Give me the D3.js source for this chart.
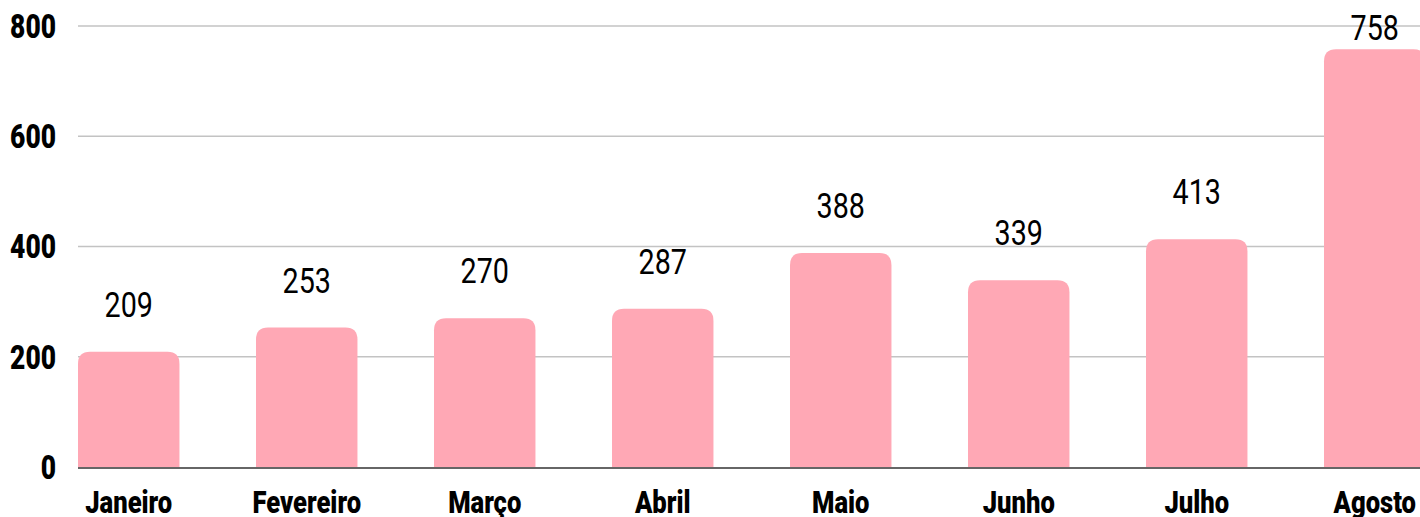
<!DOCTYPE html>
<html>
<head>
<meta charset="utf-8">
<script src="https://cdn.jsdelivr.net/npm/d3@7"></script>
<style>
  body { margin: 0; background: #fff; overflow: hidden; }
  svg { display: block; }
</style>
</head>
<body>
<script>
const months = ["Janeiro", "Fevereiro", "Março", "Abril", "Maio", "Junho", "Julho", "Agosto"];
const values = [209, 253, 270, 287, 388, 339, 413, 758];
const yTicks = [0, 200, 400, 600, 800];

const width = 1420;
const height = 517;
const font = "Roboto, 'Liberation Sans', sans-serif";
const squeeze = 0.8; // the original uses a condensed face

const svg = d3.select("body").append("svg")
    .attr("width", width)
    .attr("height", height);

const x = d3.scaleBand()
    .domain(months)
    .range([78, 78 + 178 * (months.length - 0.43)])
    .paddingInner(0.43)
    .paddingOuter(0)
    .align(0);

const y = d3.scaleLinear()
    .domain([0, 800])
    .range([467, 26]);

// grid
svg.append("g")
  .selectAll("line")
  .data(yTicks.filter(d => d > 0))
  .join("line")
    .attr("x1", 78)
    .attr("x2", width)
    .attr("y1", d => y(d))
    .attr("y2", d => y(d))
    .attr("stroke", "#c3c3c3")
    .attr("stroke-width", 1.5);

// y tick labels
svg.append("g")
  .selectAll("text")
  .data(yTicks)
  .join("text")
    .attr("transform", d => `translate(56,${y(d)}) scale(${squeeze},1)`)
    .attr("dy", "0.36em")
    .attr("text-anchor", "end")
    .style("font-family", font)
    .style("font-weight", 900)
    .style("font-size", "33px")
    .text(d => d);

// bars with rounded tops
const r = 12;
const rows = months.map((m, i) => ({ m, v: values[i] }));
svg.append("g")
  .selectAll("path")
  .data(rows)
  .join("path")
    .attr("fill", "#ffa8b5")
    .attr("d", d => {
      const x0 = x(d.m), x1 = x0 + x.bandwidth();
      const y0 = y(0), y1 = y(d.v);
      return `M${x0},${y0}V${y1 + r}Q${x0},${y1} ${x0 + r},${y1}H${x1 - r}Q${x1},${y1} ${x1},${y1 + r}V${y0}Z`;
    });

// baseline
svg.append("line")
    .attr("x1", 78)
    .attr("x2", width)
    .attr("y1", y(0) + 1)
    .attr("y2", y(0) + 1)
    .attr("stroke", "#666")
    .attr("stroke-width", 2);

// value labels
svg.append("g")
  .selectAll("text")
  .data(rows)
  .join("text")
    .attr("transform", d => `translate(${x(d.m) + x.bandwidth() / 2},${Math.max(y(d.v) - 35, 40)}) scale(0.82,1)`)
    .attr("text-anchor", "middle")
    .style("font-family", font)
    .style("font-size", "35px")
    .text(d => d.v);

// x labels
svg.append("g")
  .selectAll("text")
  .data(months)
  .join("text")
    .attr("transform", d => `translate(${x(d) + x.bandwidth() / 2},513) scale(${squeeze},1)`)
    .attr("text-anchor", "middle")
    .style("font-family", font)
    .style("font-weight", 900)
    .style("font-size", "32px")
    .text(d => d);
</script>
</body>
</html>
